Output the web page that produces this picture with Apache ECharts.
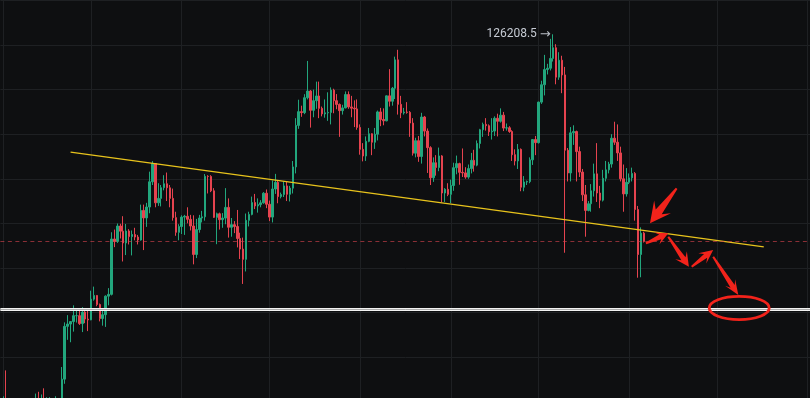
<!DOCTYPE html>
<html><head><meta charset="utf-8">
<script src="https://cdn.jsdelivr.net/npm/echarts@6/dist/echarts.min.js"></script>
<style>html,body{margin:0;padding:0;background:#0e0f11;overflow:hidden}#c{width:810px;height:398px;}</style>
</head><body><div id="c"></div>
<script>
// daily candles, each row: [open, close, low, high]
const mar = [[82390,82550,81280,83940]];
const apr = [
[82550,85160,82430,85590],[85160,82520,82320,88500],[82520,83100,81190,83980],[83100,83840,81650,84720],
[83840,83500,82380,84250],[83500,78370,77150,83800],[78370,79140,74500,81240],[79140,76270,76150,80840],
[76270,82580,74620,83550],[82580,79590,78400,82700],[79590,83400,78960,84250],[83400,85280,82800,85900],
[85280,83730,82850,86100],[83730,84590,83180,85800],[84590,83640,83580,86490],[83640,84030,83130,85490],
[84030,84940,83990,85500],[84940,84450,84330,85100],[84450,85060,84350,85600],[85060,85180,83950,85320],
[85180,87520,85100,88880],[87520,93440,87000,93890],[93440,93700,91930,94700],[93700,93980,91660,94040],
[93980,94640,92850,95800],[94640,94640,93870,95300],[94640,93750,93600,95300],[93750,95040,92800,95600],
[95040,94260,93800,95480],[94260,94170,92910,95230]];
const may = [
[94170,96490,94130,97440],[96490,96910,96320,97900],[96910,95890,95700,96950],[95890,94320,94000,96000],
[94320,94750,93520,95200],[94750,96830,93380,96920],[96830,97030,95800,97730],[97030,103240,96910,104000],
[103240,102970,102330,104300],[102970,104700,102800,104980],[104700,104120,103300,104950],[104120,102800,100720,105800],
[102800,104140,101440,104930],[104140,103510,102630,104350],[103510,103750,101400,104200],[103750,103460,103100,104500],
[103460,103130,102630,103700],[103130,106450,103050,107100],[106450,105610,102000,107100],[105610,106830,104600,107300],
[106830,109660,106130,110800],[109660,111700,109300,111980],[111700,107300,106800,111300],[107300,107800,106950,109500],
[107800,109000,106900,109300],[109000,109440,108700,110400],[109440,108990,107500,110700],[108990,107800,106800,109300],
[107800,105640,105300,108900],[105640,103990,103600,106300],[103990,104640,103100,104900]];
const jun = [
[104640,105700,103800,105900],[105700,105790,103700,105950],[105790,105450,105000,106800],[105450,104700,104200,105950],
[104700,101510,100400,105900],[101510,104300,101100,105500],[104300,105600,103950,105950],[105600,105730,105100,106400],
[105730,110270,105300,110530],[110270,110260,108350,110400],[110260,108650,108500,110400],[108650,105670,105600,108950],
[105670,106070,102660,106200],[106070,105410,104300,106200],[105410,105590,104500,106150],[105590,106790,104900,108950],
[106790,104560,103400,107800],[104560,104850,103500,105600],[104850,104640,103900,105250],[104640,103300,102300,106500],
[103300,102110,101000,103950],[102110,100960,98200,103400],[100960,105340,99600,106100],[105340,106000,104650,106300],
[106000,107330,105900,108000],[107330,106950,106600,108300],[106950,107100,106200,107800],[107100,107300,106800,107600],
[107300,108380,107200,108500],[108380,107140,106700,108800]];
const jul = [
[107140,105700,105250,107550],[105700,108850,105100,109800],[108850,109600,108300,110550],[109600,108000,107250,109750],
[108000,108230,107800,108450],[108230,109200,107950,109700],[109200,108260,107500,109700],[108260,108950,107450,109200],
[108950,111330,108350,111990],[111330,115990,110600,116800],[115990,117530,115600,118870],[117530,117420,116950,118200],
[117420,119090,117250,119490],[119090,119840,118900,123220],[119840,117680,115740,119950],[117680,118760,116900,120000],
[118760,119290,117850,120900],[119290,117900,116800,120900],[117900,117280,117000,118100],[117280,117400,116850,118900],
[117400,117440,116500,119700],[117440,119950,116100,120250],[119950,118760,117350,120100],[118760,118340,117800,119500],
[118340,117640,114700,118450],[117640,117950,117200,118300],[117950,119450,117900,119800],[119450,118060,117850,119800],
[118060,117920,116900,119300],[117920,117840,115800,118800],[117840,115760,115500,118900]];
const aug = [
[115760,113300,112700,116100],[113300,112550,111950,114000],[112550,114200,112000,114750],[114200,115050,114100,115700],
[115050,114100,112650,115100],[114100,115000,113350,115700],[115000,117500,114300,117650],[117500,116650,115900,117950],
[116650,116500,116000,117900],[116500,119300,116450,119350],[119300,118700,118100,122300],[118700,120150,118200,120300],
[120150,123340,118950,123700],[123340,118350,117200,124470],[118350,117400,116800,119300],[117400,117490,117200,117950],
[117490,117450,117300,118600],[117450,116250,114700,117600],[116250,112870,112600,116800],[112870,114270,112400,114600],
[114270,112500,111900,114800],[112500,116930,111700,117400],[116930,115350,114750,117050],[115350,113490,110650,115650],
[113490,110110,109300,113650],[110110,111800,109650,112400],[111800,111260,110350,112650],[111260,112560,110850,113500],
[112560,108400,107350,112650],[108400,108820,107400,108950],[108820,108250,108050,109500]];
const sep = [
[108250,109240,107270,109900],[109240,111240,108650,111800],[111240,111700,110500,112600],[111700,110720,109330,111800],
[110720,110660,110200,113400],[110660,110190,110000,111300],[110190,111140,110000,111600],[111140,112070,110600,112900],
[112070,111530,110800,113250],[111530,113960,111400,114300],[113960,115500,113400,115600],[115500,116100,114700,116300],
[116100,115950,115400,116800],[115950,115270,114800,116100],[115270,115350,114400,116800],[115350,116790,114800,117000],
[116790,116450,114750,117300],[116450,117140,116300,117900],[117140,115690,115350,117500],[115690,115720,115400,116200],
[115720,115300,115150,115900],[115300,112700,112000,115450],[112700,112000,111500,113300],[112000,113300,111100,113900],
[113300,109050,108600,113400],[109050,109640,108600,110300],[109640,109680,109300,109800],[109680,112120,109500,112400],
[112120,114400,111550,114450],[114400,114050,112650,114800]];
const oct = [
[114050,118600,113950,118650],[118600,120550,118400,121000],[120550,122250,119350,123900],[122250,122400,121700,122900],
[122400,123500,122150,125700],[123500,124700,123150,126208.5],[124700,121400,120600,125100],[121400,123300,121100,124200],
[123300,121650,119600,123800],[121650,113200,101700,122550],[113200,110650,109700,113450],[110650,115150,109700,115800],
[115150,115300,113800,116000],[115300,113050,109700,115400],[113050,110750,110200,113600],[110750,108200,107500,111100],
[108200,106450,103500,109300],[106450,107200,106350,107500],[107200,108650,106300,109400],[108650,110550,108000,111700],
[110550,108400,107400,114000],[108400,107600,106700,109200],[107600,110050,107450,111000],[110050,111000,109700,112000],
[111000,111650,110600,111900],[111650,114550,111250,115000],[114550,114100,113800,116400],[114100,112900,112000,116100],
[112900,110000,109700,113600],[110000,108300,106300,111600],[108300,109600,108000,111200]];
const nov = [
[109600,110100,109400,110600],[110100,110600,109700,111250],[110600,106550,105300,110750],[106550,101500,98900,106950],
[101500,103900,98950,104550],[103900,102970,102850,104050]];

const startDate = '2025-03-31';
const dayCount = 278;               // through 2026-01-02
const yMin = 85000, yMax = 130000, yStep = 5000;
const athDate = '2025-10-06', athValue = 126208.5, athText = '126208.5';
const lastPrice = 102970;
const supportLevel = 95335;
const trendLine = [[24, 113000], [261, 102350]];   // [day index, price]
// hand-drawn arrows: tail [day index, price], tip [day index, price]
const arrowTails = [[231.2,108930],[220.7,102760],[228.35,103500],[236.35,100135],[243.7,101257]];
const arrowTips  = [[222.1,105000],[228.35,103882],[235.4,100135],[243.7,102008],[252.3,96960]];
const targetCircle = [252.6, 95500];

const UP = '#22a67d', DOWN = '#e5434f';

const categories = [];
{
  const d0 = new Date(startDate + 'T00:00:00Z');
  for (let i = 0; i < dayCount; i++) {
    const d = new Date(d0.getTime() + i * 86400000);
    categories.push(d.toISOString().slice(0, 10));
  }
}
const candles = [].concat(mar, apr, may, jun, jul, aug, sep, oct, nov);

const chart = echarts.init(document.getElementById('c'), null, {renderer: 'canvas'});
chart.setOption({
  backgroundColor: '#0e0f11',
  animation: false,
  grid: {left: 0.375, width: 810.2, top: 0.5, height: 401.1, containLabel: false, outerBoundsMode: 'none'},
  xAxis: {
    type: 'category', data: categories, boundaryGap: false,
    axisLine: {show: false}, axisTick: {show: false}, axisLabel: {show: false},
    splitLine: {show: true, interval: (i, v) => v.slice(8) === '01', lineStyle: {color: '#1e2023', width: 1}}
  },
  yAxis: {
    type: 'value', position: 'right', min: yMin, max: yMax, interval: yStep,
    axisLine: {show: false}, axisTick: {show: false}, axisLabel: {show: false},
    splitLine: {show: true, lineStyle: {color: '#1e2023', width: 1}}
  },
  series: [{
    type: 'candlestick', data: candles, barWidth: 2, clip: true,
    itemStyle: {color: UP, color0: DOWN, borderColor: UP, borderColor0: DOWN, borderWidth: 1},
    markPoint: {
      symbol: 'circle', symbolSize: 1, itemStyle: {color: 'rgba(0,0,0,0)'},
      label: {show: true, position: 'left', distance: 2, color: '#c5cad3', fontSize: 12,
              fontFamily: 'Roboto, "Noto Sans", sans-serif',
              formatter: '{n|' + athText + '} {a|→}',
              rich: {n: {color: '#c5cad3', fontSize: 12, fontFamily: 'Roboto, sans-serif'},
                     a: {color: '#b8bdc5', fontSize: 13, fontFamily: '"DejaVu Sans", sans-serif'}}},
      data: [{coord: [athDate, athValue]}]
    },
    markLine: {
      symbol: ['none', 'none'], silent: true, label: {show: false}, animation: false,
      data: [
        [{coord: [categories[trendLine[0][0]], trendLine[0][1]], lineStyle: {color: '#e8c31c', width: 1.3, type: 'solid'}},
         {coord: [categories[trendLine[1][0]], trendLine[1][1]]}],
        {yAxis: lastPrice, lineStyle: {color: 'rgba(215,68,78,0.62)', width: 1, type: [4, 3.5]}},
        {yAxis: supportLevel, lineStyle: {color: '#f2f2f2', width: 3.2, type: 'solid'}},
        {yAxis: supportLevel, lineStyle: {color: '#9a9a9a', width: 0.8, type: 'solid'}}
      ]
    }
  }]
});

function px(pt) {
  const i0 = Math.floor(pt[0]), f = pt[0] - i0;
  const a = chart.convertToPixel({gridIndex: 0}, [i0, pt[1]]);
  const b = chart.convertToPixel({gridIndex: 0}, [i0 + 1, pt[1]]);
  return [a[0] + f * (b[0] - a[0]), a[1]];
}
function arrowShape(t, p, hl, hw, w0, w1) {
  const dx = p[0] - t[0], dy = p[1] - t[1], L = Math.hypot(dx, dy);
  const ux = dx / L, uy = dy / L, nx = -uy, ny = ux;
  const bx = p[0] - ux * hl, by = p[1] - uy * hl;
  const jx = bx + ux * hl * 0.2, jy = by + uy * hl * 0.2;
  const kx = bx - ux * hl * 0.15, ky = by - uy * hl * 0.15;
  return [
    [t[0] + nx * w0 / 2, t[1] + ny * w0 / 2],
    [jx + nx * w1 / 2, jy + ny * w1 / 2],
    [kx + nx * hw / 2, ky + ny * hw / 2],
    [p[0], p[1]],
    [kx - nx * hw / 2, ky - ny * hw / 2],
    [jx - nx * w1 / 2, jy - ny * w1 / 2],
    [t[0] - nx * w0 / 2, t[1] - ny * w0 / 2]
  ];
}
const headSizes = [[18, 21, 2, 7.5], [11, 13, 2, 5], [12, 14, 2, 5], [12, 13, 2, 5], [13, 12, 2, 5]];
const graphics = arrowTails.map((tl, k) => ({
  type: 'polygon', silent: true, z: 100,
  shape: {points: arrowShape(px(tl), px(arrowTips[k]), ...headSizes[k])},
  style: {fill: '#f2231b'}
}));
const cc = px(targetCircle);
graphics.push({type: 'ellipse', silent: true, z: 100, shape: {cx: cc[0], cy: cc[1], rx: 30, ry: 11.6},
  style: {fill: 'none', stroke: '#f2231b', lineWidth: 2.8}});
chart.setOption({graphic: graphics});
</script>
</body></html>
